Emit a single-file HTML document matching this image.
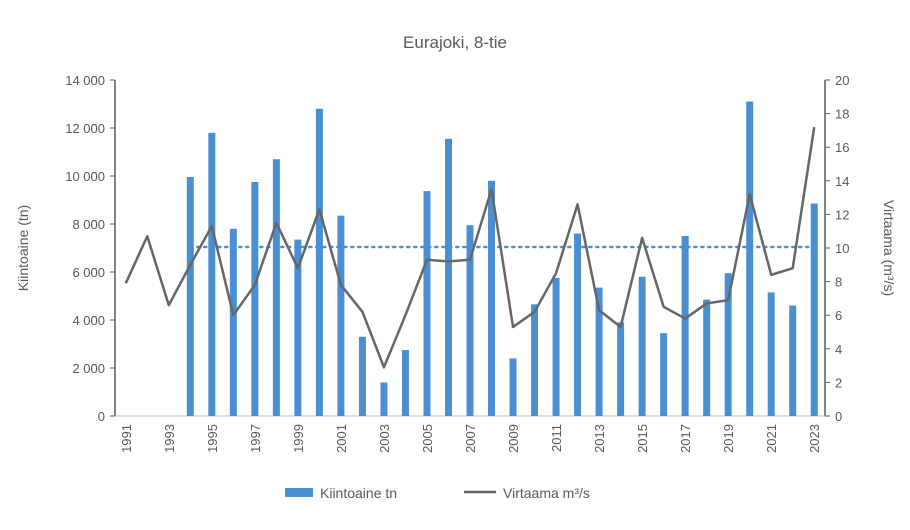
<!DOCTYPE html>
<html><head><meta charset="utf-8"><style>
body{margin:0;background:#fff;font-family:"Liberation Sans",sans-serif;}
svg text{font-family:"Liberation Sans",sans-serif;fill:#595959;}
</style></head><body>
<svg id="c" width="910" height="525" xmlns="http://www.w3.org/2000/svg">
<text x="455" y="48" text-anchor="middle" font-size="17">Eurajoki, 8-tie</text>
<g id="grid"></g>
<text transform="translate(28,248) rotate(-90)" text-anchor="middle" font-size="14">Kiintoaine (tn)</text>
<text transform="translate(884,248) rotate(90)" text-anchor="middle" font-size="14">Virtaama (m³/s)</text>
<g>
<rect x="285" y="488" width="28" height="9" fill="#4a8fd4"/>
<text x="320" y="498" font-size="14">Kiintoaine tn</text>
<line x1="464" y1="492" x2="496" y2="492" stroke="#666" stroke-width="2.5"/>
<text x="503" y="498" font-size="14">Virtaama m³/s</text>
</g>
</svg>
<script>
const years=[1991,1992,1993,1994,1995,1996,1997,1998,1999,2000,2001,2002,2003,2004,2005,2006,2007,2008,2009,2010,2011,2012,2013,2014,2015,2016,2017,2018,2019,2020,2021,2022,2023];
const kiintoaine=[0,0,0,9960,11800,7800,9750,10700,7350,12800,8350,3300,1400,2750,9370,11550,7950,9800,2400,4650,5750,7600,5350,3900,5800,3450,7500,4850,5950,13100,5150,4600,8850];
const virtaama=[7.9,10.7,6.6,9.0,11.3,6.0,7.8,11.5,8.8,12.3,7.8,6.2,2.9,6.0,9.3,9.2,9.3,13.5,5.3,6.2,8.5,12.6,6.3,5.3,10.6,6.5,5.8,6.7,6.9,13.2,8.4,8.8,17.2];
const avgKiintoaine=7040;
const leftTicks=[0,2000,4000,6000,8000,10000,12000,14000];
const rightTicks=[0,2,4,6,8,10,12,14,16,18,20];
const svg=document.getElementById('c');const NS='http://www.w3.org/2000/svg';
const L=115,R=825,T=80,B=416;
const step=(R-L)/years.length;
const xc=i=>L+step*(i+0.5);
const yl=v=>B-(v/14000)*(B-T);
const yr=v=>B-(v/20)*(B-T);
function mk(t,a){const e=document.createElementNS(NS,t);for(const k in a)e.setAttribute(k,a[k]);svg.appendChild(e);return e;}
let e;
e=mk('line',{x1:L,y1:T,x2:L,y2:B,stroke:'#595959','stroke-width':1.5});


e=mk('line',{x1:R,y1:T,x2:R,y2:B,stroke:'#595959','stroke-width':1.5});


e=mk('line',{x1:L,y1:B,x2:R,y2:B,stroke:'#bfbfbf','stroke-width':1});


leftTicks.forEach(v=>{
 mk('line',{x1:L-5,y1:yl(v),x2:L,y2:yl(v),stroke:'#595959'});
 e=mk('text',{x:L-10,y:yl(v)+5,'text-anchor':'end','font-size':13});
 e.textContent=v===0?'0':v.toLocaleString('fi-FI').replace(/\s/g,' ');
 
 
});
rightTicks.forEach(v=>{
 mk('line',{x1:R,y1:yr(v),x2:R+5,y2:yr(v),stroke:'#595959'});
 e=mk('text',{x:R+10,y:yr(v)+5,'text-anchor':'start','font-size':13});
 e.textContent=v;
 
 
});
kiintoaine.forEach((v,i)=>{
 if(v>0){e=mk('rect',{x:xc(i)-3.5,y:yl(v),width:7,height:B-yl(v),fill:'#4a8fd4'});
 
 }
 if(i%2===0){e=mk('text',{transform:`translate(${xc(i)+5},${B+8}) rotate(-90)`,'text-anchor':'end','font-size':13});
 e.textContent=years[i];
 
 }
});
e=mk('line',{x1:xc(3),y1:yl(avgKiintoaine),x2:xc(32),y2:yl(avgKiintoaine),stroke:'#4a8fd4','stroke-width':2.5,'stroke-dasharray':'2 5','stroke-linecap':'round'});


e=mk('polyline',{points:virtaama.map((v,i)=>xc(i)+','+yr(v)).join(' '),fill:'none',stroke:'#666','stroke-width':2.5,'stroke-linejoin':'round'});


</script>
</body></html>
